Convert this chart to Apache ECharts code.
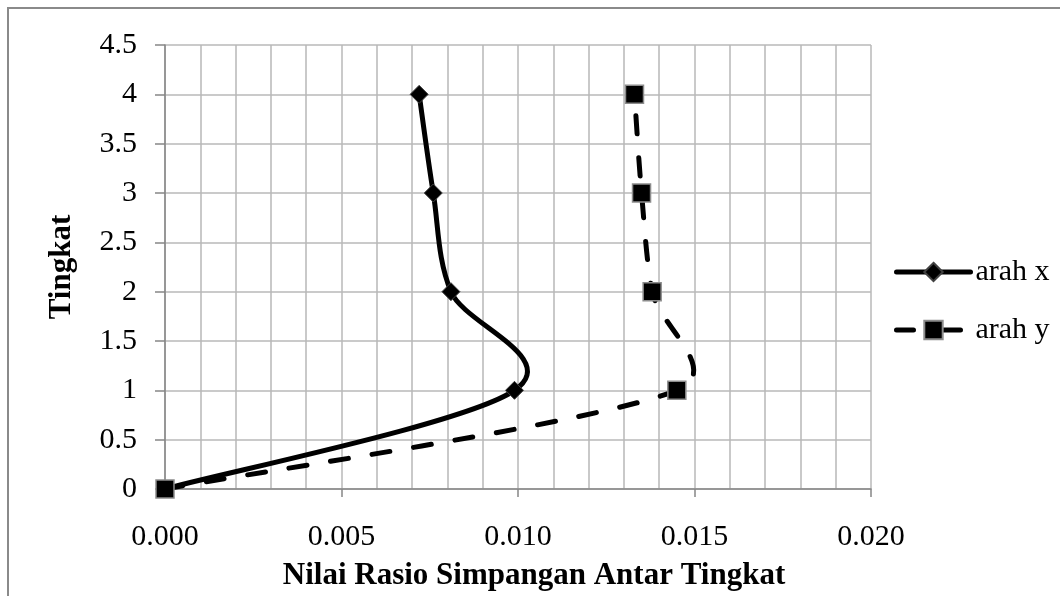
<!DOCTYPE html>
<html>
<head>
<meta charset="utf-8">
<script src="https://cdn.jsdelivr.net/npm/echarts@6/dist/echarts.min.js"></script>
<style>
  html, body { margin: 0; padding: 0; background: #ffffff; }
  #chart { width: 1060px; height: 596px; }
</style>
</head>
<body>
<div id="chart"></div>
<script>
// Data
const floors = [0, 1, 2, 3, 4];                       // Tingkat
const arahX = [0, 0.0099, 0.0081, 0.0076, 0.0072];    // series "arah x"
const arahY = [0, 0.0145, 0.0138, 0.0135, 0.0133];    // series "arah y"
const seriesNames = ['arah x', 'arah y'];
const xTitle = 'Nilai Rasio Simpangan Antar Tingkat';
const yTitle = 'Tingkat';

const pairs = (xs, ys) => xs.map((v, i) => [v, ys[i]]);

const FONT = '"Liberation Serif", "Times New Roman", serif';
const LINE_W = 5;
const DASH = [18, 24];

// Spreadsheet-style smoothed curve through the (pixel) points of a series
function smoothPath(pts) {
  const n = pts.length;
  const dist = (a, b) => Math.hypot(a[0] - b[0], a[1] - b[1]);
  let d = 'M' + pts[0][0] + ' ' + pts[0][1];
  for (let i = 0; i < n - 1; i++) {
    const p0 = pts[Math.max(i - 1, 0)], p1 = pts[i], p2 = pts[i + 1], p3 = pts[Math.min(i + 2, n - 1)];
    const seg = dist(p1, p2);
    const v1 = [p2[0] - p0[0], p2[1] - p0[1]], l1 = Math.hypot(v1[0], v1[1]);
    const a1 = Math.min(l1 / 6, seg / 2);
    const c1 = l1 > 0 ? [p1[0] + v1[0] / l1 * a1, p1[1] + v1[1] / l1 * a1] : p1;
    const v2 = [p3[0] - p1[0], p3[1] - p1[1]], l2 = Math.hypot(v2[0], v2[1]);
    const a2 = Math.min(l2 / 6, seg / 2);
    const c2 = l2 > 0 ? [p2[0] - v2[0] / l2 * a2, p2[1] - v2[1] / l2 * a2] : p2;
    d += ' C' + c1[0] + ' ' + c1[1] + ' ' + c2[0] + ' ' + c2[1] + ' ' + p2[0] + ' ' + p2[1];
  }
  return d;
}

function curveSeries(id, xs, ys, dash) {
  return {
    id: id,
    name: id,
    type: 'custom',
    silent: true,
    z: 2,
    data: pairs(xs, ys),
    encode: { x: 0, y: 1 },
    renderItem: function (params, api) {
      if (params.dataIndex !== 0) return null;
      const pts = xs.map((x, i) => api.coord([x, ys[i]]));
      return {
        type: 'path',
        shape: { pathData: smoothPath(pts) },
        style: {
          fill: 'none', stroke: '#000', lineWidth: LINE_W,
          lineDash: dash, lineCap: 'round', lineJoin: 'round'
        }
      };
    }
  };
}

const chart = echarts.init(document.getElementById('chart'), null, { renderer: 'canvas' });

chart.setOption({
  animation: false,
  backgroundColor: '#ffffff',
  textStyle: { fontFamily: FONT, color: '#000' },
  graphic: [{
    type: 'rect',
    shape: { x: 8, y: 8, width: 1120, height: 700 },
    style: { fill: 'none', stroke: '#8a8a8a', lineWidth: 2 },
    silent: true,
    z: -10
  }],
  grid: { left: 165, top: 45, right: 189, bottom: 106, containLabel: false },
  legend: {
    orient: 'vertical',
    left: 889,
    top: 252,
    itemWidth: 74,
    itemHeight: 23,
    itemGap: 28,
    textStyle: { fontFamily: FONT, fontSize: 30, color: '#000' },
    data: [
      { name: seriesNames[0], lineStyle: { color: '#000', width: LINE_W, opacity: 1, type: 'solid', cap: 'round' } },
      { name: seriesNames[1], lineStyle: { color: '#000', width: LINE_W, opacity: 1, type: [17, 30], cap: 'round' } }
    ]
  },
  xAxis: {
    type: 'value',
    min: 0, max: 0.02, interval: 0.005,
    name: xTitle,
    nameLocation: 'middle',
    nameGap: 71,
    nameTextStyle: { fontFamily: FONT, fontSize: 31, fontWeight: 'bold', color: '#000', padding: [0, 0, 0, 32] },
    axisLine: { show: true, lineStyle: { color: '#868686', width: 1.5 } },
    axisTick: { show: true, length: 8, inside: false, lineStyle: { color: '#868686', width: 1.5 } },
    axisLabel: { margin: 33, fontFamily: FONT, fontSize: 30, color: '#000', formatter: v => v.toFixed(3) },
    splitLine: { show: true, lineStyle: { color: '#b8b8b8', width: 1.5 } },
    minorTick: { show: false, splitNumber: 5 },
    minorSplitLine: { show: true, lineStyle: { color: '#b8b8b8', width: 1.5 } }
  },
  yAxis: {
    type: 'value',
    min: 0, max: 4.5, interval: 0.5,
    name: yTitle,
    nameLocation: 'middle',
    nameGap: 88,
    nameTextStyle: { fontFamily: FONT, fontSize: 31, fontWeight: 'bold', color: '#000' },
    axisLine: { show: true, lineStyle: { color: '#868686', width: 1.5 } },
    axisTick: { show: true, length: 10, inside: false, lineStyle: { color: '#868686', width: 1.5 } },
    axisLabel: { margin: 28, fontFamily: FONT, fontSize: 30, color: '#000' },
    splitLine: { show: true, lineStyle: { color: '#b8b8b8', width: 1.5 } }
  },
  series: [
    curveSeries('arah x curve', arahX, floors, null),
    curveSeries('arah y curve', arahY, floors, DASH),
    {
      name: seriesNames[0],
      type: 'line',
      data: pairs(arahX, floors),
      symbol: 'diamond',
      symbolSize: 18,
      lineStyle: { color: '#000', width: LINE_W, opacity: 0 },
      itemStyle: { color: '#000', borderColor: '#404040', borderWidth: 1 },
      z: 3
    },
    {
      name: seriesNames[1],
      type: 'line',
      data: pairs(arahY, floors),
      symbol: 'rect',
      symbolSize: 18,
      lineStyle: { color: '#000', width: LINE_W, opacity: 0 },
      itemStyle: { color: '#000', borderColor: '#8c8c8c', borderWidth: 1.5 },
      z: 4
    }
  ]
});
</script>
</body>
</html>
